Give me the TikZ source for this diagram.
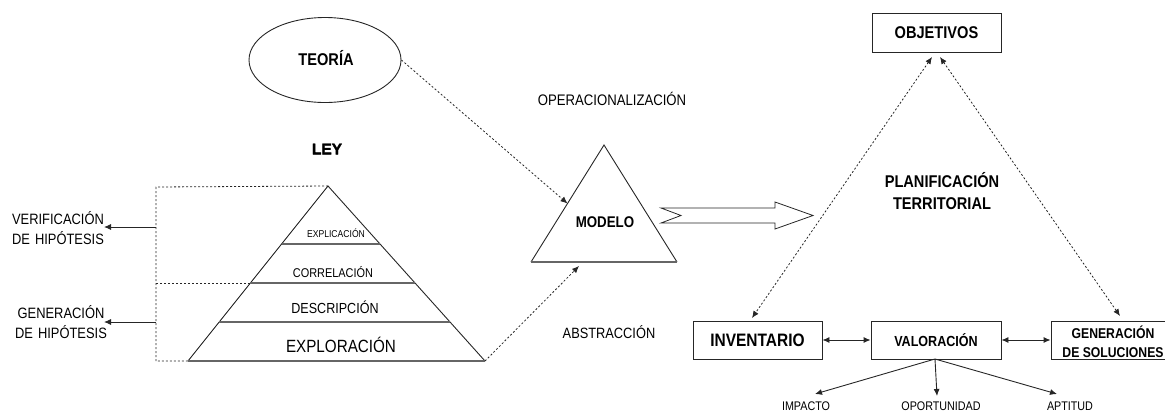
\documentclass[tikz,border=0pt]{standalone}
\usepackage{fontspec}
\setmainfont{Liberation Sans}[FakeStretch=0.86]
\newfontfamily\heavyfont{Liberation Sans}[BoldFeatures={FakeBold=2.2}]
\usetikzlibrary{arrows.meta,shapes.geometric,calc}
\newcommand{\fsz}[1]{\fontsize{#1}{#1}\selectfont}
\tikzset{
  line/.style={draw=black!85, line width=0.9pt},
  divider/.style={draw=black!60, line width=1.2pt},
  dotline/.style={draw=black!85, line width=0.8pt, dash pattern=on 2pt off 2pt},
  tip/.style={-{Latex[length=7pt,width=6pt]}},
  tips/.style={{Latex[length=7pt,width=6pt]}-{Latex[length=7pt,width=6pt]}},
  lbl/.style={inner sep=0pt, align=center},
  boxnode/.style={draw=black!85, line width=0.9pt, inner sep=0pt}
}
\begin{document}
\begin{tikzpicture}[x=1pt,y=-1pt]
\useasboundingbox (0,0) rectangle (1165,413);
\clip (0,0) rectangle (1165,413);

% theory and law
\node[line, ellipse, minimum width=152pt, minimum height=85pt, inner sep=0pt] (teoria) at (325,60) {};
\node[lbl, font=\bfseries\fsz{17}] (teoriatxt) at (326,58) {TEORÍA};
\node[lbl, font=\heavyfont\bfseries\fsz{15.5}] (ley) at (327,149) {LEY};

% research pyramid
\coordinate (pa) at (328,186);
\coordinate (pl) at (188,361);
\coordinate (pr) at (485,361);
\draw[line] (pl) -- (pa) -- (pr);
\draw[divider] (pl) -- (pr);
\coordinate (d1l) at (281.6,244); \coordinate (d1r) at (380,244);
\coordinate (d2l) at (250.4,283); \coordinate (d2r) at (415,283);
\coordinate (d3l) at (219.2,322); \coordinate (d3r) at (450,322);
\draw[divider] (d1l) -- (d1r);
\draw[divider] (d2l) -- (d2r);
\draw[divider] (d3l) -- (d3r);
\node[lbl, font=\fsz{10}] (explic) at (336,233) {EXPLICACIÓN};
\node[lbl, font=\fsz{12.7}] (correl) at (333,272) {CORRELACIÓN};
\node[lbl, font=\fsz{14.6}] (descr) at (335,307) {DESCRIPCIÓN};
\node[lbl, font=\fsz{17.7}] (explor) at (341,345) {EXPLORACIÓN};

% dashed bracket and hypothesis arrows
\coordinate (bt) at (156,187);
\coordinate (bm) at (156,283);
\coordinate (bb) at (156,361);
\coordinate (bv) at (156,227);
\coordinate (bg) at (156,322);
\draw[dotline] (pa) -- (bt) -- (bb) -- (pl);
\draw[dotline] (bm) -- (d2l);
\node[lbl, font=\fsz{15}, text width=110pt, align=center, execute at begin node=\setlength{\baselineskip}{19.5pt}] (verif) at (58,228) {VERIFICACIÓN\\DE HIPÓTESIS};
\node[lbl, font=\fsz{15}, text width=110pt, align=center, execute at begin node=\setlength{\baselineskip}{20pt}] (gener) at (61,322) {GENERACIÓN\\DE HIPÓTESIS};
\coordinate (verifend) at (104,227);
\coordinate (generend) at (104,322);
\draw[line, tip] (bv) -- (verifend);
\draw[line, tip] (bg) -- (generend);

% model
\coordinate (ma) at (604,145);
\coordinate (ml) at (531,262);
\coordinate (mr) at (677,262);
\draw[line] (ml) -- (ma) -- (mr);
\draw[divider] (ml) -- (mr);
\node[lbl, font=\bfseries\fsz{15.5}] (modelo) at (605,222) {MODELO};
\node[lbl, font=\fsz{15.3}] (oper) at (612,99) {OPERACIONALIZACIÓN};
\node[lbl, font=\fsz{14.9}] (abstr) at (609,332) {ABSTRACCIÓN};
\coordinate (medge) at ($(ma)!0.5!(ml)$);
\coordinate (mbase) at (579,266);
\draw[dotline, tip] (teoria.east) -- (medge);
\draw[dotline, tip] (pr) -- (mbase);

% hollow block arrow
\draw[line, line width=0.8pt] (661,208) -- (681,215.5) -- (661,223) -- (775,223) -- (775,229)
  -- (813,215.5) -- (775,202) -- (775,208) -- cycle;

% territorial planning
\node[boxnode, minimum width=129pt, minimum height=39pt, font=\bfseries\fsz{17}] (obj) at (936.5,32.5) {OBJETIVOS};
\node[lbl, font=\bfseries\fsz{17}, execute at begin node=\setlength{\baselineskip}{22pt}] (plan) at (942,191) {PLANIFICACIÓN\\TERRITORIAL};
\node[boxnode, minimum width=129pt, minimum height=38pt, font=\bfseries\fsz{18}] (inv) at (757.5,340) {INVENTARIO};
\node[boxnode, minimum width=130pt, minimum height=38pt, font=\bfseries\fsz{14.6}] (val) at (936,340) {VALORACIÓN};
\node[boxnode, minimum width=150pt, minimum height=38pt] (gen) at (1126,340) {};
\node[lbl, font=\bfseries\fsz{14.2}, execute at begin node=\setlength{\baselineskip}{19.5pt}] (gentxt) at (1113,342) {GENERACIÓN\\DE SOLUCIONES};

\coordinate (objl) at (932,57);
\coordinate (objr) at (940,57);
\coordinate (invt) at (752,318);
\coordinate (gent) at (1120,316);
\draw[dotline, tips] (objl) -- (invt);
\draw[dotline, tips] (objr) -- (gent);
\draw[line, tips] (inv.east) -- (val.west);
\draw[line, tips] (val.east) -- (gen.west);

% assessment outputs
\node[lbl, font=\fsz{12.5}] (impacto) at (806,406) {IMPACTO};
\node[lbl, font=\fsz{12.5}] (oport) at (941,406) {OPORTUNIDAD};
\node[lbl, font=\fsz{12.5}] (aptitud) at (1070,406) {APTITUD};
\coordinate (vb) at (935,359);
\coordinate (impt) at (815,394);
\coordinate (oppt) at (937,396);
\coordinate (aptt) at (1057,394);
\draw[line, tip] (vb) -- (impt);
\draw[line, tip] (vb) -- (oppt);
\draw[line, tip] (vb) -- (aptt);
\end{tikzpicture}
\end{document}
